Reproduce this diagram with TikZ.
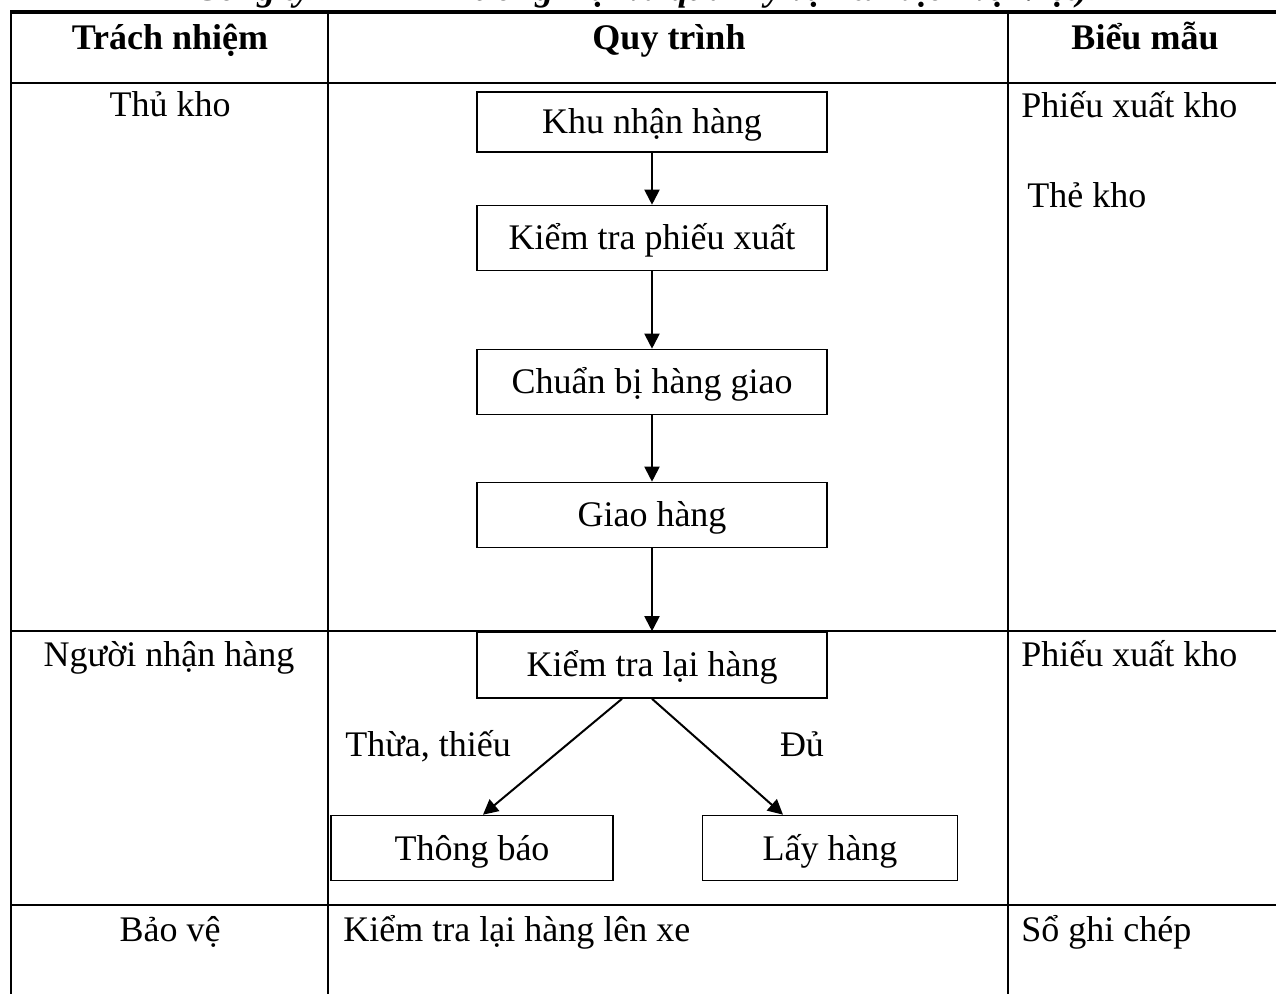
\documentclass[tikz,border=0pt]{standalone}
\usepackage{fontspec}
\setmainfont{Liberation Serif}
\usetikzlibrary{arrows.meta}

\begin{document}
\begin{tikzpicture}[x=0.5pt,y=-0.5pt,>={Triangle[length=7.5pt,width=7.5pt]},
  font=\fontsize{18}{21}\selectfont,
  stepbox/.style={draw,line width=0.8pt,minimum width=175pt,minimum height=32.5pt,
    inner sep=0pt,text height=13pt,text depth=1pt},
  grid/.style={line width=1.3pt},
  flow/.style={->,line width=1pt},
  lbl/.style={inner sep=0pt,anchor=base}]
  \useasboundingbox (0,0) rectangle (1276,994);

  % cut-off title line above the table
  \node[lbl,anchor=base west,font=\fontsize{18}{21}\selectfont\bfseries\itshape] (title) at (195,1)
    {Công ty TNHH Thương mại và quản lý vận tải dịch vụ Việt)};

  % table
  \draw[grid,line width=1.6pt] (10,12) -- (1276,12);
  \draw[grid] (11,83) -- (1276,83);
  \draw[grid] (11,631) -- (1276,631);
  \draw[grid] (11,905) -- (1276,905);
  \draw[grid] (11,12) -- (11,994);
  \draw[grid] (328,12) -- (328,994);
  \draw[grid] (1008,12) -- (1008,994);

  % header
  \node[lbl,font=\fontsize{18}{21}\selectfont\bfseries] (h1) at (170,50) {Trách nhiệm};
  \node[lbl,font=\fontsize{18}{21}\selectfont\bfseries] (h2) at (669,50) {Quy trình};
  \node[lbl,font=\fontsize{18}{21}\selectfont\bfseries] (h3) at (1145,50) {Biểu mẫu};

  % responsibility
  \node[lbl] (thukho) at (170,117) {Thủ kho};
  \node[lbl] (nguoinhan) at (169,667) {Người nhận hàng};
  \node[lbl] (baove) at (170,941) {Bảo vệ};

  % forms
  \node[lbl,anchor=base west] (phieu1) at (1021,118) {Phiếu xuất kho};
  \node[lbl,anchor=base west] (thekho) at (1027,208) {Thẻ kho};
  \node[lbl,anchor=base west] (phieu2) at (1021,667) {Phiếu xuất kho};
  \node[lbl,anchor=base west] (soghi) at (1021,941) {Sổ ghi chép};

  % process
  \node[stepbox,minimum height=30pt] (khu) at (652,122) {Khu nhận hàng};
  \node[stepbox] (kiemtra) at (652,238) {Kiểm tra phiếu xuất};
  \node[stepbox] (chuanbi) at (652,382) {Chuẩn bị hàng giao};
  \node[stepbox] (giao) at (652,515) {Giao hàng};
  \node[stepbox,minimum height=33pt] (kiemlai) at (652,665) {Kiểm tra lại hàng};
  \node[stepbox,minimum width=141pt] (thongbao) at (472,848) {Thông báo};
  \node[stepbox,minimum width=127.5pt] (layhang) at (830,848) {Lấy hàng};
  \node[lbl] (thua) at (428,757) {Thừa, thiếu};
  \node[lbl] (du) at (802,757) {Đủ};
  \node[lbl,anchor=base west] (lenxe) at (343,941) {Kiểm tra lại hàng lên xe};

  \draw[flow] (khu) -- (kiemtra);
  \draw[flow] (kiemtra) -- (chuanbi);
  \draw[flow] (chuanbi) -- (giao);
  \draw[flow] (giao) -- (kiemlai);
  \draw[flow] ([xshift=-15pt]kiemlai.south) -- ([xshift=5.5pt]thongbao.north);
  \draw[flow] (kiemlai.south) -- ([xshift=-23.5pt]layhang.north);
\end{tikzpicture}
\end{document}
